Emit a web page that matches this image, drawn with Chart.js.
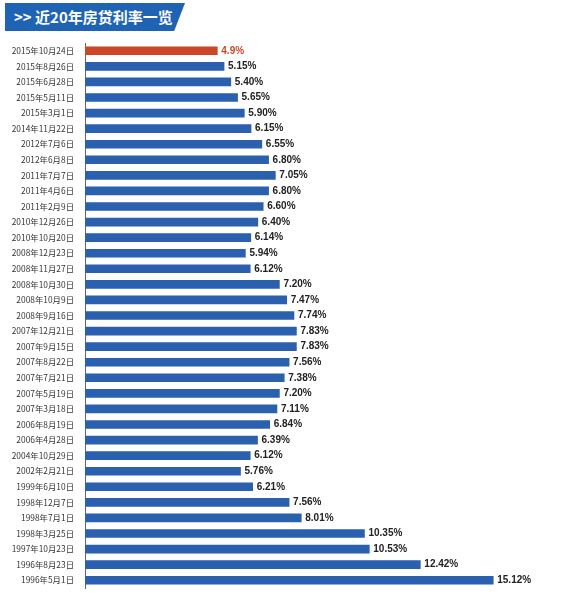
<!DOCTYPE html>
<html>
<head>
<meta charset="utf-8">
<script src="https://cdn.jsdelivr.net/npm/chart.js@4"></script>
<style>
  html, body { margin: 0; padding: 0; background: #fff; }
  #wrap { position: relative; width: 571px; height: 600px; }
  #banner {
    position: absolute; left: 5px; top: 3px; width: 180px; height: 28px;
    background: #1f63b4;
    clip-path: polygon(0 0, 100% 0, 94% 100%, 0 100%);
    color: #fff; font: bold 15px "Noto Sans CJK SC", sans-serif;
    line-height: 28px; padding-left: 9px; box-sizing: border-box;
    white-space: nowrap;
  }
  canvas { position: absolute; left: 0; top: 0; }
</style>
</head>
<body>
<div id="wrap">
  <canvas id="rateChart" width="571" height="600"></canvas>
  <div id="banner">&gt;&gt; 近20年房贷利率一览</div>
</div>
<script>
const dates = [
  '2015年10月24日', '2015年8月26日', '2015年6月28日', '2015年5月11日', '2015年3月1日',
  '2014年11月22日', '2012年7月6日', '2012年6月8日', '2011年7月7日', '2011年4月6日',
  '2011年2月9日', '2010年12月26日', '2010年10月20日', '2008年12月23日', '2008年11月27日',
  '2008年10月30日', '2008年10月9日', '2008年9月16日', '2007年12月21日', '2007年9月15日',
  '2007年8月22日', '2007年7月21日', '2007年5月19日', '2007年3月18日', '2006年8月19日',
  '2006年4月28日', '2004年10月29日', '2002年2月21日', '1999年6月10日', '1998年12月7日',
  '1998年7月1日', '1998年3月25日', '1997年10月23日', '1996年8月23日', '1996年5月1日'
];
const rates = [
  4.9, 5.15, 5.40, 5.65, 5.90,
  6.15, 6.55, 6.80, 7.05, 6.80,
  6.60, 6.40, 6.14, 5.94, 6.12,
  7.20, 7.47, 7.74, 7.83, 7.83,
  7.56, 7.38, 7.20, 7.11, 6.84,
  6.39, 6.12, 5.76, 6.21, 7.56,
  8.01, 10.35, 10.53, 12.42, 15.12
];
const rateLabels = [
  '4.9%', '5.15%', '5.40%', '5.65%', '5.90%',
  '6.15%', '6.55%', '6.80%', '7.05%', '6.80%',
  '6.60%', '6.40%', '6.14%', '5.94%', '6.12%',
  '7.20%', '7.47%', '7.74%', '7.83%', '7.83%',
  '7.56%', '7.38%', '7.20%', '7.11%', '6.84%',
  '6.39%', '6.12%', '5.76%', '6.21%', '7.56%',
  '8.01%', '10.35%', '10.53%', '12.42%', '15.12%'
];

const blue = '#2a60ad';
const red = '#cc4727';

// write the percentage just past the end of each bar
const valueLabels = {
  id: 'valueLabels',
  afterDatasetsDraw(chart) {
    const ctx = chart.ctx;
    const meta = chart.getDatasetMeta(0);
    ctx.save();
    ctx.font = 'bold 10px "Liberation Sans", Arial, sans-serif';
    ctx.textBaseline = 'middle';
    meta.data.forEach(function(bar, i) {
      ctx.fillStyle = i === 0 ? red : '#222';
      ctx.fillText(rateLabels[i], bar.x + 4, bar.y);
    });
    ctx.restore();
  }
};

document.addEventListener('DOMContentLoaded', function() {
  const ctx = document.getElementById('rateChart').getContext('2d');
  new Chart(ctx, {
    type: 'bar',
    data: {
      labels: dates,
      datasets: [{
        data: rates,
        backgroundColor: rates.map((v, i) => i === 0 ? red : blue),
        barThickness: 8
      }]
    },
    options: {
      indexAxis: 'y',
      responsive: false,
      animation: false,
      layout: { padding: { top: 43, bottom: 12, left: 0, right: 27 } },
      plugins: {
        legend: { display: false },
        tooltip: { enabled: false }
      },
      scales: {
        x: {
          display: false,
          min: 0,
          max: 17
        },
        y: {
          afterFit(scale) { scale.width = 85; },
          border: { display: true, color: '#666', width: 1 },
          grid: { display: false },
          ticks: {
            color: '#333',
            padding: 3,
            font: { size: 8.4, family: '"Noto Sans CJK SC", sans-serif' }
          }
        }
      }
    },
    plugins: [valueLabels]
  });
});
</script>
</body>
</html>
